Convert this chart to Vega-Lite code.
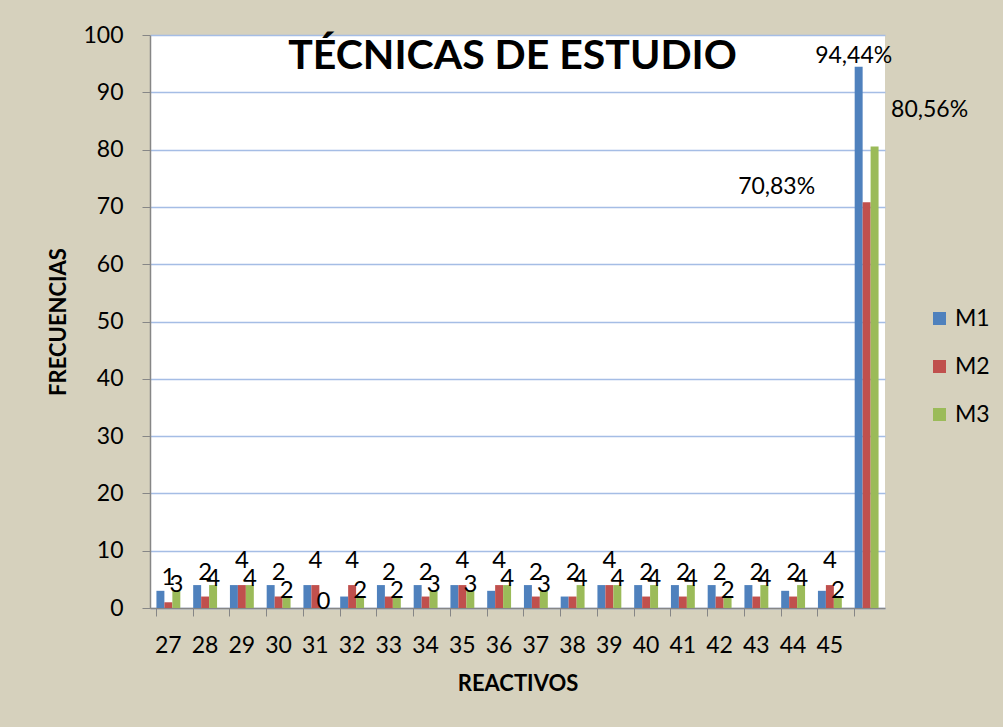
{
  "$schema": "https://vega.github.io/schema/vega-lite/v6.json",
  "width": 735,
  "height": 573,
  "autosize": {"type": "none"},
  "padding": {"left": 150, "top": 35, "right": 118, "bottom": 119},
  "background": "#d6d1bd",
  "title": {
    "text": "TÉCNICAS DE ESTUDIO",
    "font": "Lato",
    "fontSize": 41,
    "fontWeight": "bold",
    "color": "#000000",
    "anchor": "middle",
    "baseline": "middle",
    "offset": -22,
    "dx": -5,
    "dy": 52
  },
  "data": {
    "values": [
      {"item": "27", "serie": "M1", "value": 3}, {"item": "27", "serie": "M2", "value": 1}, {"item": "27", "serie": "M3", "value": 3},
      {"item": "28", "serie": "M1", "value": 4}, {"item": "28", "serie": "M2", "value": 2}, {"item": "28", "serie": "M3", "value": 4},
      {"item": "29", "serie": "M1", "value": 4}, {"item": "29", "serie": "M2", "value": 4}, {"item": "29", "serie": "M3", "value": 4},
      {"item": "30", "serie": "M1", "value": 4}, {"item": "30", "serie": "M2", "value": 2}, {"item": "30", "serie": "M3", "value": 2},
      {"item": "31", "serie": "M1", "value": 4}, {"item": "31", "serie": "M2", "value": 4}, {"item": "31", "serie": "M3", "value": 0},
      {"item": "32", "serie": "M1", "value": 2}, {"item": "32", "serie": "M2", "value": 4}, {"item": "32", "serie": "M3", "value": 2},
      {"item": "33", "serie": "M1", "value": 4}, {"item": "33", "serie": "M2", "value": 2}, {"item": "33", "serie": "M3", "value": 2},
      {"item": "34", "serie": "M1", "value": 4}, {"item": "34", "serie": "M2", "value": 2}, {"item": "34", "serie": "M3", "value": 3},
      {"item": "35", "serie": "M1", "value": 4}, {"item": "35", "serie": "M2", "value": 4}, {"item": "35", "serie": "M3", "value": 3},
      {"item": "36", "serie": "M1", "value": 3}, {"item": "36", "serie": "M2", "value": 4}, {"item": "36", "serie": "M3", "value": 4},
      {"item": "37", "serie": "M1", "value": 4}, {"item": "37", "serie": "M2", "value": 2}, {"item": "37", "serie": "M3", "value": 3},
      {"item": "38", "serie": "M1", "value": 2}, {"item": "38", "serie": "M2", "value": 2}, {"item": "38", "serie": "M3", "value": 4},
      {"item": "39", "serie": "M1", "value": 4}, {"item": "39", "serie": "M2", "value": 4}, {"item": "39", "serie": "M3", "value": 4},
      {"item": "40", "serie": "M1", "value": 4}, {"item": "40", "serie": "M2", "value": 2}, {"item": "40", "serie": "M3", "value": 4},
      {"item": "41", "serie": "M1", "value": 4}, {"item": "41", "serie": "M2", "value": 2}, {"item": "41", "serie": "M3", "value": 4},
      {"item": "42", "serie": "M1", "value": 4}, {"item": "42", "serie": "M2", "value": 2}, {"item": "42", "serie": "M3", "value": 2},
      {"item": "43", "serie": "M1", "value": 4}, {"item": "43", "serie": "M2", "value": 2}, {"item": "43", "serie": "M3", "value": 4},
      {"item": "44", "serie": "M1", "value": 3}, {"item": "44", "serie": "M2", "value": 2}, {"item": "44", "serie": "M3", "value": 4},
      {"item": "45", "serie": "M1", "value": 3}, {"item": "45", "serie": "M2", "value": 4}, {"item": "45", "serie": "M3", "value": 2},
      {"item": "46", "serie": "M1", "value": 94.44}, {"item": "46", "serie": "M2", "value": 70.83}, {"item": "46", "serie": "M3", "value": 80.56}
    ]
  },
  "encoding": {
    "x": {
      "field": "item",
      "type": "nominal",
      "sort": null,
      "scale": {"paddingInner": 0.35, "paddingOuter": 0.175},
      "axis": {
        "title": "REACTIVOS",
        "titleFont": "Lato",
        "titleFontSize": 22,
        "titleFontWeight": "bold",
        "titleColor": "#000000",
        "titlePadding": 16,
        "labelAngle": 0,
        "labelFont": "Lato",
        "labelFontSize": 23,
        "labelColor": "#000000",
        "labelPadding": 18,
        "labelExpr": "datum.label == '46' ? '' : datum.label",
        "bandPosition": 0,
        "tickSize": 8,
        "tickColor": "#868686",
        "domainColor": "#868686",
        "domainWidth": 1.5,
        "grid": false
      }
    },
    "xOffset": {"field": "serie", "type": "nominal", "scale": {"paddingInner": 0, "paddingOuter": 0}},
    "y": {
      "field": "value",
      "type": "quantitative",
      "scale": {"domain": [0, 100], "nice": false},
      "axis": {
        "title": "FRECUENCIAS",
        "titleFont": "Lato",
        "titleFontSize": 22,
        "titleFontWeight": "bold",
        "titleColor": "#000000",
        "titlePadding": 12,
        "labelFont": "Lato",
        "labelFontSize": 23,
        "labelColor": "#000000",
        "labelPadding": 19,
        "values": [0, 10, 20, 30, 40, 50, 60, 70, 80, 90, 100],
        "tickSize": 8,
        "tickColor": "#868686",
        "domainColor": "#868686",
        "domainWidth": 1.5,
        "gridColor": "#a5bde5",
        "gridWidth": 1.5
      }
    }
  },
  "layer": [
    {
      "mark": {"type": "bar"},
      "encoding": {
        "color": {
          "field": "serie",
          "type": "nominal",
          "scale": {"domain": ["M1", "M2", "M3"], "range": ["#4f81bd", "#c0504d", "#9bbb59"]},
          "legend": {
            "title": null,
            "orient": "none",
            "legendX": 778,
            "legendY": 272,
            "symbolType": "square",
            "symbolSize": 170,
            "symbolStrokeWidth": 0,
            "labelFont": "Lato",
            "labelFontSize": 23,
            "labelColor": "#000000",
            "rowPadding": 24
          }
        }
      }
    },
    {
      "transform": [{"filter": "datum.serie == 'M2' && datum.item != '46'"}],
      "mark": {"type": "text", "font": "Lato", "fontSize": 24, "color": "#000000", "baseline": "bottom", "dy": -12},
      "encoding": {"text": {"field": "value", "type": "quantitative"}}
    },
    {
      "transform": [{"filter": "datum.serie == 'M3' && datum.item != '46'"}],
      "mark": {"type": "text", "font": "Lato", "fontSize": 24, "color": "#000000", "baseline": "bottom", "dy": 6},
      "encoding": {"text": {"field": "value", "type": "quantitative"}}
    },
    {
      "transform": [
        {"filter": "datum.serie == 'M1' && datum.item == '46'"},
        {"calculate": "replace(format(datum.value, '.2f'), '.', ',') + '%'", "as": "lbl"}
      ],
      "mark": {"type": "text", "font": "Lato", "fontSize": 23, "color": "#000000", "baseline": "middle", "dx": -5, "dy": -11},
      "encoding": {"text": {"field": "lbl", "type": "nominal"}}
    },
    {
      "transform": [
        {"filter": "datum.serie == 'M2' && datum.item == '46'"},
        {"calculate": "replace(format(datum.value, '.2f'), '.', ',') + '%'", "as": "lbl"}
      ],
      "mark": {"type": "text", "font": "Lato", "fontSize": 23, "color": "#000000", "baseline": "middle", "dx": -90, "dy": -15},
      "encoding": {"text": {"field": "lbl", "type": "nominal"}}
    },
    {
      "transform": [
        {"filter": "datum.serie == 'M3' && datum.item == '46'"},
        {"calculate": "replace(format(datum.value, '.2f'), '.', ',') + '%'", "as": "lbl"}
      ],
      "mark": {"type": "text", "font": "Lato", "fontSize": 23, "color": "#000000", "baseline": "middle", "dx": 55, "dy": -36},
      "encoding": {"text": {"field": "lbl", "type": "nominal"}}
    }
  ],
  "config": {
    "view": {"fill": "#ffffff", "stroke": null}
  }
}
